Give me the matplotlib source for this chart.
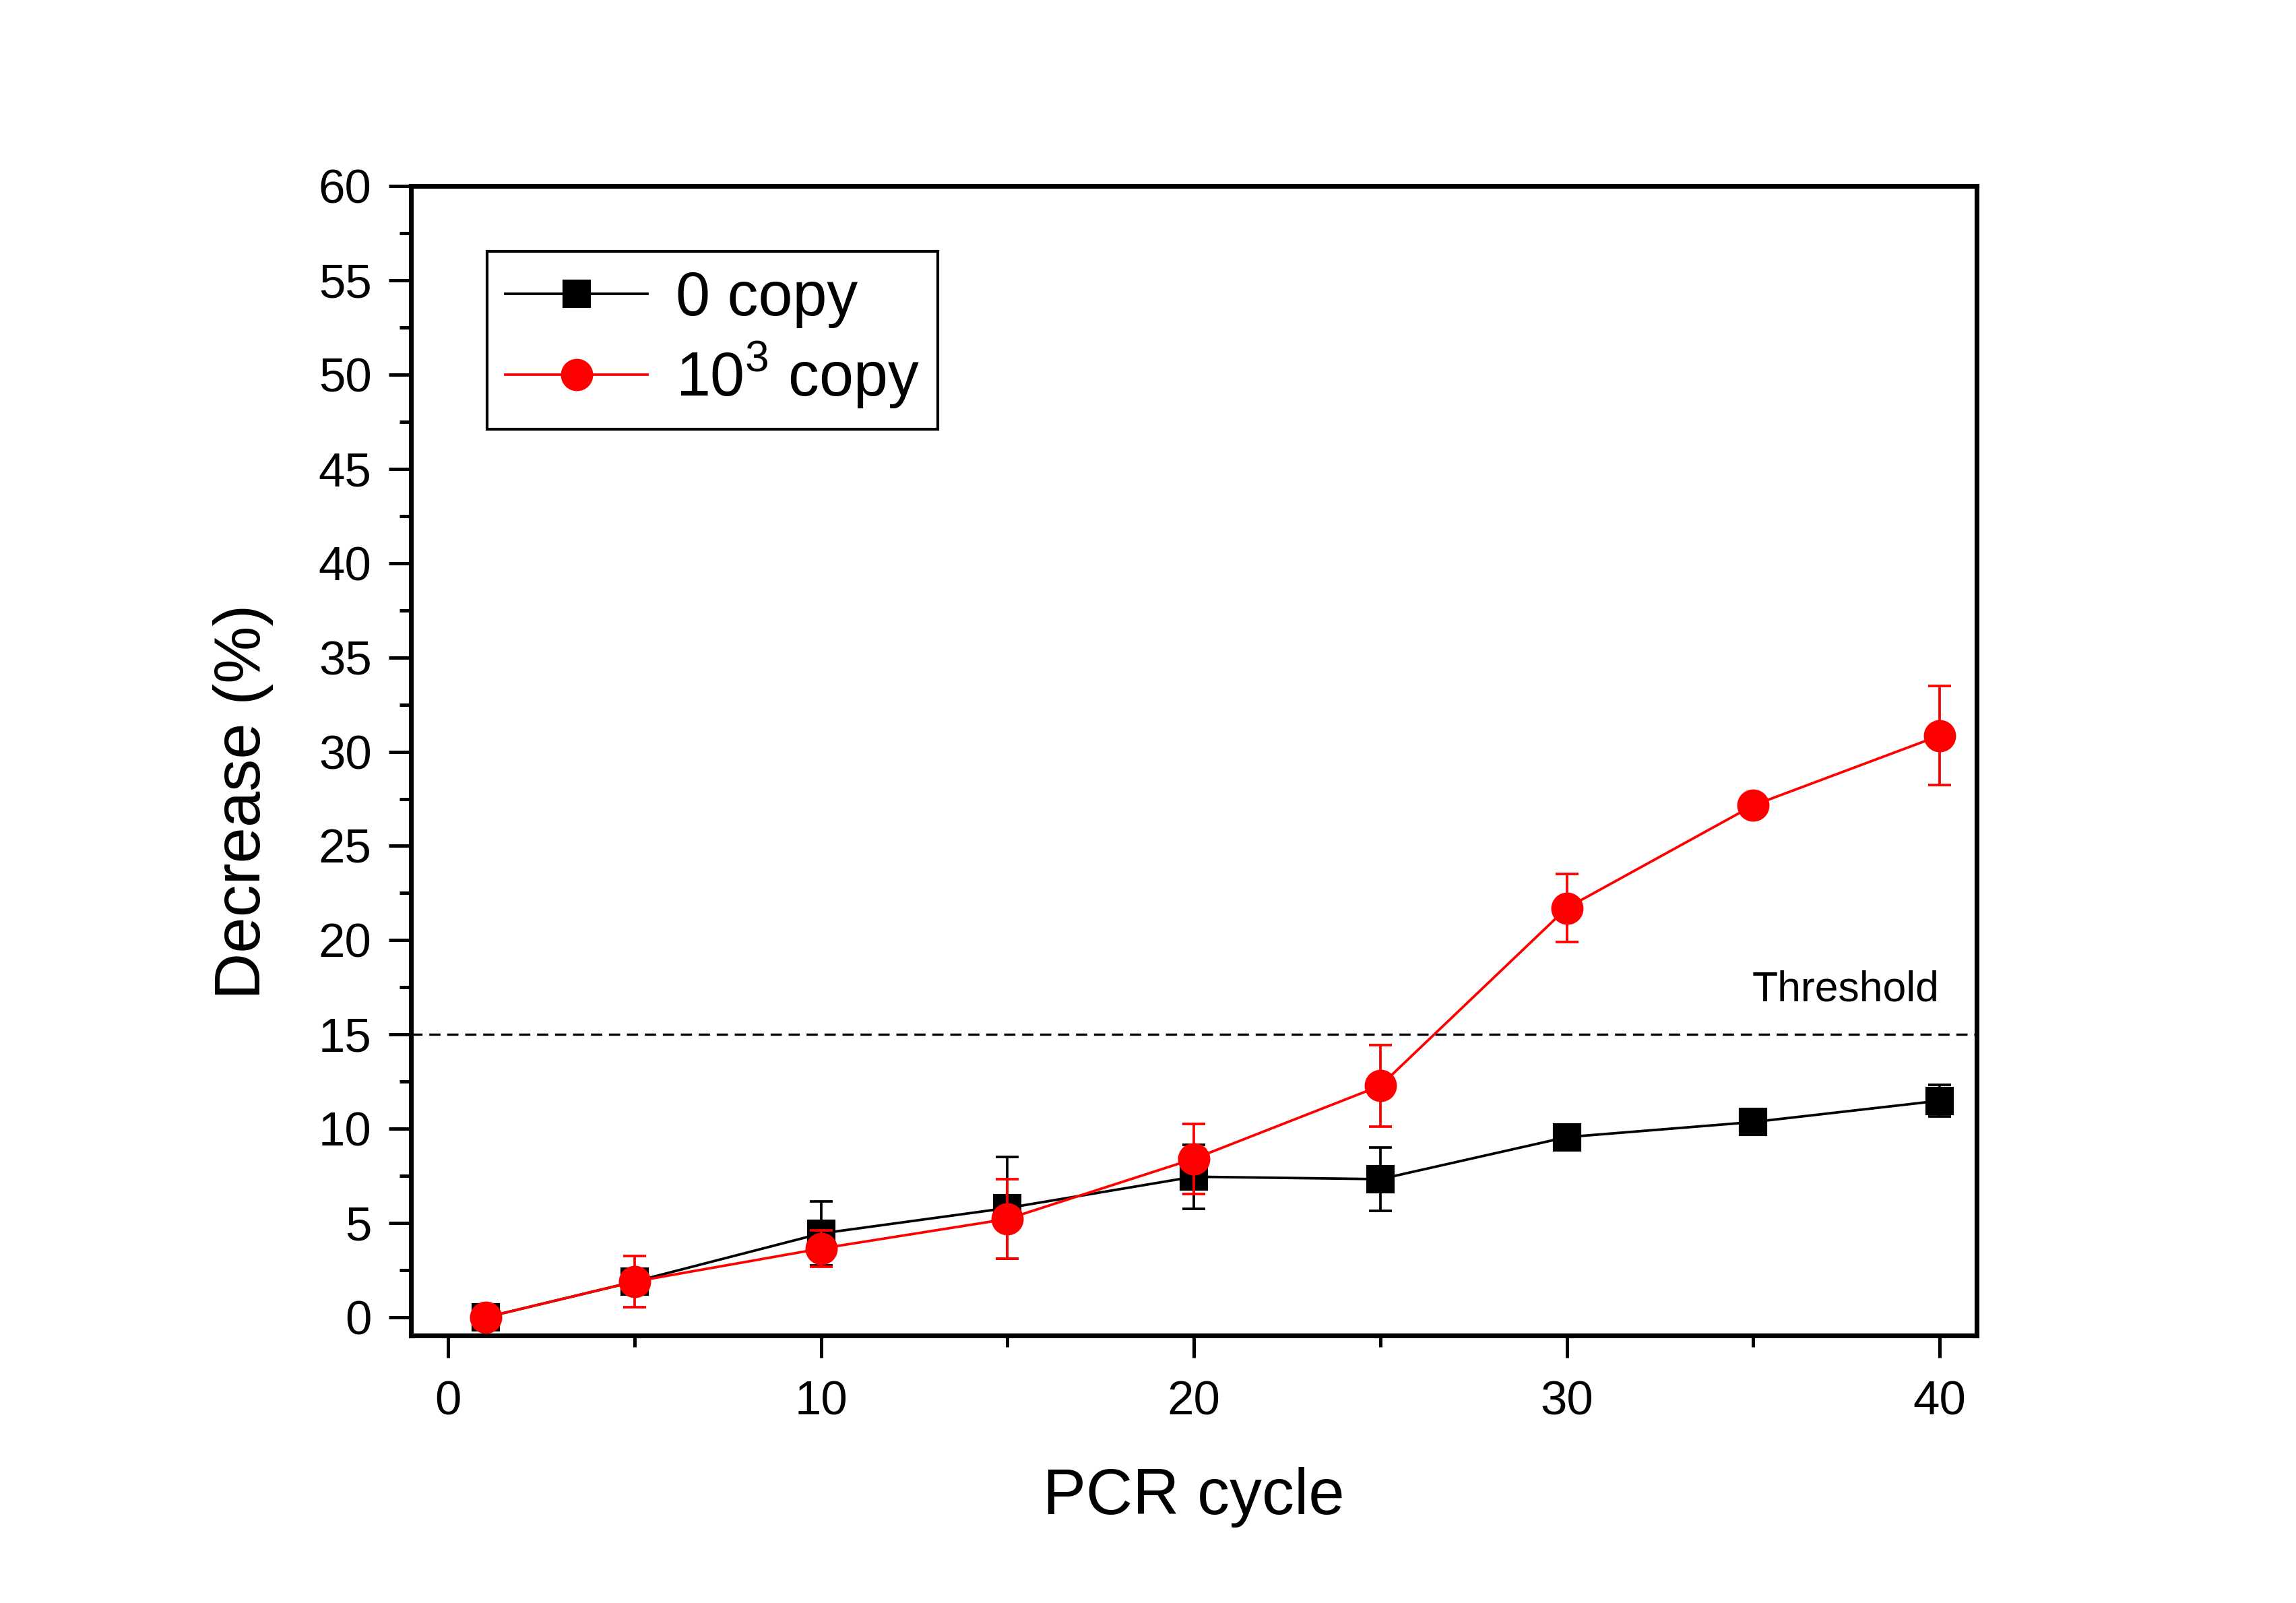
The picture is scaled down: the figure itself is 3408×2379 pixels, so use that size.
import matplotlib
matplotlib.use("Agg")
import matplotlib.pyplot as plt
from matplotlib.ticker import MultipleLocator
from matplotlib.lines import Line2D

plt.rcParams['font.family'] = ['Liberation Sans', 'DejaVu Sans']
plt.rcParams['mathtext.fontset'] = 'custom'
plt.rcParams['mathtext.rm'] = 'Liberation Sans'

cycles = [1, 5, 10, 15, 20, 25, 30, 35, 40]
zero_copy = [0, 1.9, 4.45, 5.8, 7.46, 7.33, 9.56, 10.36, 11.49]
zero_copy_err = [0.2, 0.45, 1.7, 2.7, 1.7, 1.67, 0.3, 0.3, 0.84]
k_copy = [0, 1.9, 3.65, 5.22, 8.41, 12.28, 21.71, 27.15, 30.85]
k_copy_err = [0.2, 1.35, 0.95, 2.1, 1.86, 2.15, 1.8, 0.4, 2.63]
threshold = 15
labels = ['0 copy', r'10$^3$ copy']

fig = plt.figure(figsize=(3408/300, 2379/300), dpi=300)
ax = fig.add_axes([0.179, 0.167, 0.682, 0.717])

ax.errorbar(cycles, zero_copy, yerr=zero_copy_err, color='black', marker='s',
            markersize=9, lw=0.9, elinewidth=0.9, capsize=4, capthick=0.9,
            zorder=3)
ax.errorbar(cycles, k_copy, yerr=k_copy_err, color='#ff0000', marker='o',
            markersize=10.5, lw=0.9, elinewidth=0.9, capsize=4, capthick=0.9,
            zorder=4)

ax.axhline(threshold, color='black', lw=0.8, linestyle=(0, (5, 3)), zorder=2)
ax.text(40, threshold + 1.3, 'Threshold', ha='right', va='bottom', fontsize=15)

ax.set_xlim(-1, 41)
ax.set_ylim(-0.95, 60)
ax.xaxis.set_major_locator(MultipleLocator(10))
ax.xaxis.set_minor_locator(MultipleLocator(5))
ax.yaxis.set_major_locator(MultipleLocator(5))
ax.yaxis.set_minor_locator(MultipleLocator(2.5))

ax.tick_params(which='both', direction='out', top=False, right=False, width=1.2)
ax.tick_params(which='major', length=8, labelsize=17, pad=6)
ax.tick_params(axis='x', which='major', pad=8)
ax.tick_params(which='minor', length=4)
for s in ax.spines.values():
    s.set_linewidth(1.7)

ax.set_xlabel('PCR cycle', fontsize=23, labelpad=15)
ax.set_ylabel('Decrease (%)', fontsize=23, labelpad=16, y=0.464)

handles = [
    Line2D([], [], color='black', marker='s', markersize=9, lw=0.9),
    Line2D([], [], color='#ff0000', marker='o', markersize=10.5, lw=0.9),
]
leg = ax.legend(handles, labels, loc='upper left', bbox_to_anchor=(0.0486, 0.943),
                borderaxespad=0, fontsize=22,
                frameon=True, fancybox=False, framealpha=1, edgecolor='black',
                handlelength=2.3, borderpad=0.3, labelspacing=0.2,
                handletextpad=0.45)
leg.get_frame().set_linewidth(1.0)

fig.savefig('out.png', dpi=300)
